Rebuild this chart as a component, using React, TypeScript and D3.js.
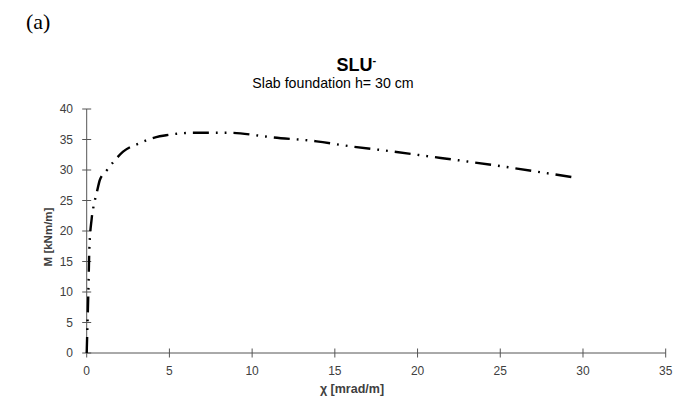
import React from "react";
import * as d3 from "d3";

const chi = [0, 0.03, 0.06, 0.1, 0.16, 0.3, 0.45, 0.6, 0.8, 1.2, 1.7, 2.2, 3.2, 4.2, 4.8, 6.4, 8.7, 10.5, 11.1, 13.9, 15.9, 18.3, 20.5, 23, 25.6, 28, 29.4];
const moment = [0, 3, 6, 10, 17, 22, 24.5, 26.2, 28.4, 29.9, 31.6, 33, 34.4, 35.4, 35.7, 36.1, 36.1, 35.6, 35.4, 34.7, 33.9, 33.1, 32.3, 31.4, 30.4, 29.4, 28.8];
const xTicks = [0, 5, 10, 15, 20, 25, 30, 35];
const yTicks = [0, 5, 10, 15, 20, 25, 30, 35, 40];

export default function App() {
  const W = 690, H = 401;
  const x = d3.scaleLinear().domain([0, 35]).range([86.7, 665.7]);
  const y = d3.scaleLinear().domain([0, 40]).range([353, 109]);
  const pts: [number, number][] = chi.map((c, i) => [c, moment[i]]);
  const line = d3.line<[number, number]>().x(d => x(d[0])).y(d => y(d[1])).curve(d3.curveMonotoneX);
  const axisColor = "#555";
  const txt = "#404040";
  const font = "Arial, 'Liberation Sans', sans-serif";
  return (
    <svg width={W} height={H} style={{ position: "absolute", left: 0, top: 0, background: "#fff" }}>
      <text x={26} y={29} fontFamily="'Times New Roman', 'Liberation Serif', serif" fontSize={22} fill="#000">(a)</text>
      <text x={336.5} y={71} fontFamily={font} fontSize={18} fontWeight="bold" fill="#000">SLU<tspan dy={-7} fontSize={11}>-</tspan></text>
      <text x={333} y={88} textAnchor="middle" fontFamily={font} fontSize={14.2} fill="#000">Slab foundation h= 30 cm</text>
      {/* axes */}
      <line x1={x(0)} x2={x(35)} y1={y(0)} y2={y(0)} stroke={axisColor} strokeWidth={1} />
      <line x1={x(0)} x2={x(0)} y1={y(0)} y2={y(40)} stroke={axisColor} strokeWidth={1} />
      {xTicks.map(t => (
        <g key={"x" + t}>
          <line x1={x(t)} x2={x(t)} y1={y(0) - 4.5} y2={y(0) + 4.5} stroke={axisColor} strokeWidth={1} />
          <text x={x(t)} y={375} textAnchor="middle" fontFamily={font} fontSize={12} fill={txt}>{t}</text>
        </g>
      ))}
      {yTicks.map(t => (
        <g key={"y" + t}>
          <line x1={x(0) - 4.5} x2={x(0) + 4.5} y1={y(t)} y2={y(t)} stroke={axisColor} strokeWidth={1} />
          <text x={73} y={y(t) + 4.2} textAnchor="end" fontFamily={font} fontSize={12} fill={txt}>{t}</text>
        </g>
      ))}
      <text x={352} y={393} textAnchor="middle" fontFamily={font} fontSize={12.5} fontWeight="bold" fill={txt}>χ [mrad/m]</text>
      <text transform="translate(52,237) rotate(-90)" textAnchor="middle" fontFamily={font} fontSize={11.5} fontWeight="bold" fill={txt}>M [kNm/m]</text>
      <path d={line(pts) || ""} fill="none" stroke="#000" strokeWidth={2.4} strokeDasharray="16,7,1.8,7,1.8,7" />
    </svg>
  );
}
